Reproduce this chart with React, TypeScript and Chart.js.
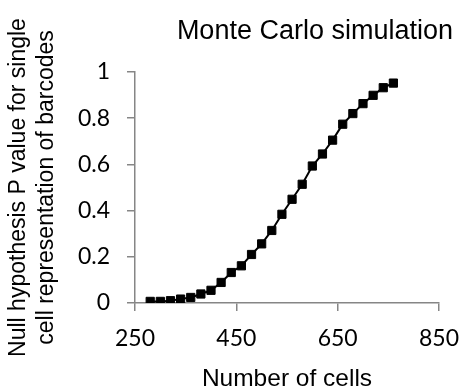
import React, { useEffect, useRef } from "react";
import { Chart, registerables } from "chart.js";

Chart.register(...registerables);

const cells = [280, 300, 320, 340, 360, 380, 400, 420, 440, 460, 480, 500, 520, 540, 560, 580, 600, 620, 640, 660, 680, 700, 720, 740, 760];
const pValues = [0.007, 0.007, 0.01, 0.017, 0.024, 0.039, 0.055, 0.089, 0.132, 0.161, 0.21, 0.256, 0.314, 0.384, 0.449, 0.514, 0.593, 0.645, 0.705, 0.774, 0.82, 0.863, 0.899, 0.932, 0.952];
const chartTitle = "Monte Carlo simulation";
const xTitle = "Number of cells";
const yTitle = ["Null hypothesis P value for single", "cell representation of barcodes"];

export default function App() {
  const ref = useRef<HTMLCanvasElement | null>(null);
  useEffect(() => {
    if (!ref.current) return;
    const axisColor = "#868686";
    const chart = new Chart(ref.current, {
      type: "line",
      data: {
        datasets: [
          {
            data: cells.map((c, i) => ({ x: c, y: pValues[i] })),
            borderColor: "#000",
            backgroundColor: "#000",
            borderWidth: 2,
            pointStyle: "rect",
            pointRadius: 5.8,
            pointBorderWidth: 1,
            tension: 0,
          },
        ],
      },
      options: {
        animation: false,
        responsive: false,
        layout: { padding: { top: 0, right: 6, bottom: 0, left: 0 } },
        plugins: {
          legend: { display: false },
          tooltip: { enabled: false },
          title: {
            display: true,
            text: chartTitle,
            align: "end",
            color: "#000",
            font: { family: "Liberation Sans", size: 27, weight: "normal", lineHeight: 1.2 },
            padding: { top: 15.4, bottom: 24.2 },
          },
        },
        scales: {
          x: {
            type: "linear",
            min: 250,
            max: 850,
            afterFit: (s: any) => {
              s.height = 89;
            },
            ticks: {
              stepSize: 200,
              color: "#000",
              padding: 0,
              maxRotation: 0,
              font: { family: "Lato", size: 23, lineHeight: 56 / 23 },
              callback: (v: any) => String(v),
            },
            grid: { drawOnChartArea: false, drawTicks: true, tickLength: 8, color: axisColor, lineWidth: 1.5 },
            border: { color: axisColor, width: 1.5 },
            title: {
              display: true,
              text: xTitle,
              color: "#000",
              font: { family: "Liberation Sans", size: 24.5, lineHeight: 1.0 },
              padding: { top: 0, bottom: 1 },
            },
          },
          y: {
            min: 0,
            max: 1,
            afterFit: (s: any) => {
              s.width = 135;
            },
            ticks: {
              stepSize: 0.2,
              color: "#000",
              padding: 17,
              font: { family: "Lato", size: 23 },
              callback: (v: any) => String(Math.round(Number(v) * 10) / 10),
            },
            grid: { drawOnChartArea: false, drawTicks: true, tickLength: 8, color: axisColor, lineWidth: 1.5 },
            border: { color: axisColor, width: 1.5 },
            title: {
              display: true,
              text: yTitle,
              color: "#000",
              font: { family: "Liberation Sans", size: 23, lineHeight: 1.23 },
              padding: { top: 4.6, bottom: 0 },
            },
          },
        },
      },
    });
    return () => chart.destroy();
  }, []);
  return (
    <div style={{ position: "absolute", left: 0, top: 0, width: 459, height: 392, background: "#fff" }}>
      <canvas ref={ref} width={459} height={392} style={{ display: "block" }} />
    </div>
  );
}
